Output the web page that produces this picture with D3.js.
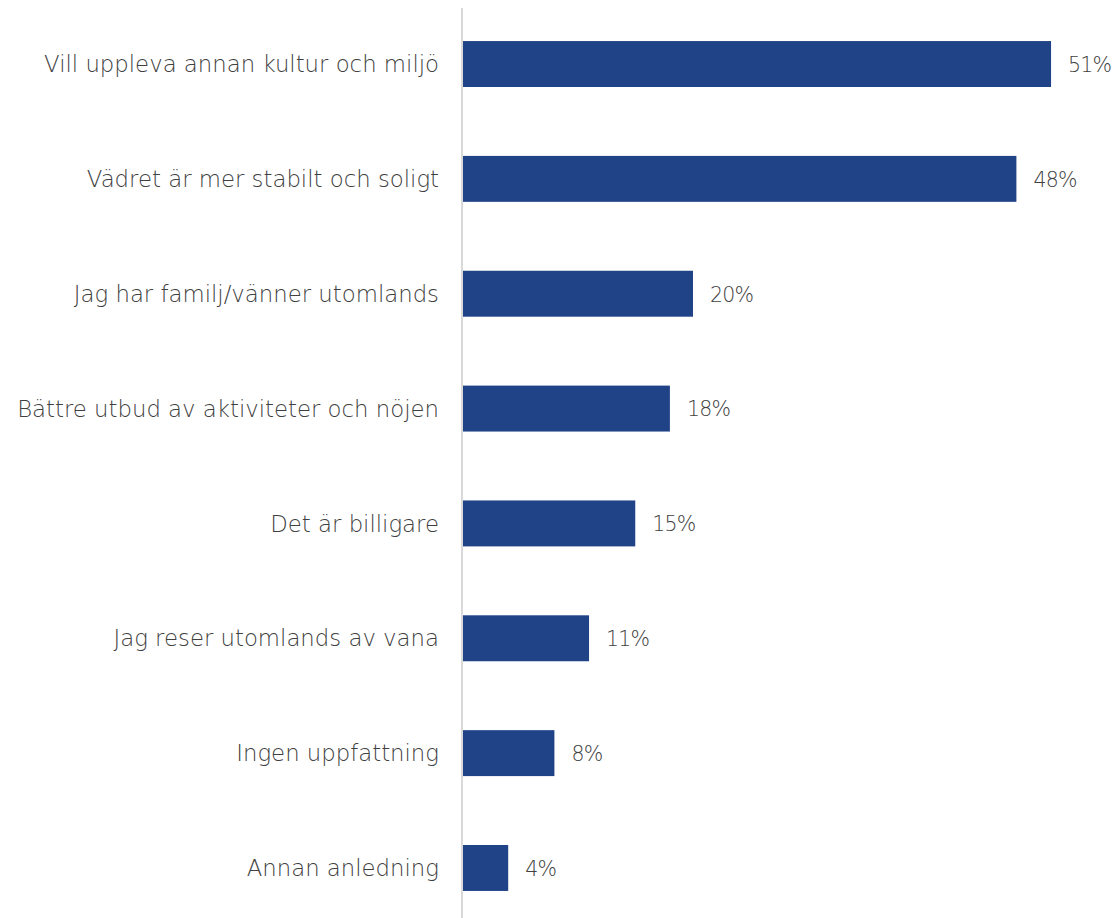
<!DOCTYPE html>
<html><head><meta charset="utf-8">
<script src="https://cdn.jsdelivr.net/npm/d3@7"></script>
<style>body{margin:0;background:#fff;} svg{display:block;}</style>
</head><body>
<svg id="chart" width="1117" height="918"></svg>
<script>
const categories = ["Vill uppleva annan kultur och miljö","Vädret är mer stabilt och soligt","Jag har familj/vänner utomlands","Bättre utbud av aktiviteter och nöjen","Det är billigare","Jag reser utomlands av vana","Ingen uppfattning","Annan anledning"];
const values = [0.51,0.48,0.20,0.18,0.15,0.11,0.08,0.04];

const svg = d3.select("#chart");
const x = d3.scaleLinear().domain([0,0.6]).range([462,1155]);
const y = d3.scaleBand().domain(categories).range([6.6,925.4]).paddingInner(0.6).paddingOuter(0.3);
const font = "'DejaVu Sans', sans-serif";

svg.selectAll("rect.bar").data(categories).join("rect")
  .attr("class","bar")
  .attr("x", x(0)+1)
  .attr("y", d=>y(d))
  .attr("width", (d,i)=>x(values[i])-x(0)-1)
  .attr("height", y.bandwidth())
  .attr("fill","#1f4386");

svg.append("line").attr("x1",462).attr("x2",462).attr("y1",8).attr("y2",918)
  .attr("stroke","#d9d9d9").attr("stroke-width",2);

svg.selectAll("text.cat").data(categories).join("text")
  .attr("class","cat")
  .attr("x", 439)
  .attr("y", d=>y(d)+y.bandwidth()/2)
  .attr("dy","0.36em")
  .attr("text-anchor","end")
  .attr("font-family",font).attr("font-size",22.8).attr("font-weight",300)
  .attr("fill","#404040")
  .text(d=>d);

svg.selectAll("text.val").data(categories).join("text")
  .attr("class","val")
  .attr("x", (d,i)=>x(values[i])+17)
  .attr("y", d=>y(d)+y.bandwidth()/2)
  .attr("dy","0.38em")
  .attr("font-family",font).attr("font-size",20.5).attr("font-weight",300)
  .attr("letter-spacing",-0.8)
  .attr("fill","#404040")
  .text((d,i)=>d3.format(".0%")(values[i]));
</script>
</body></html>
